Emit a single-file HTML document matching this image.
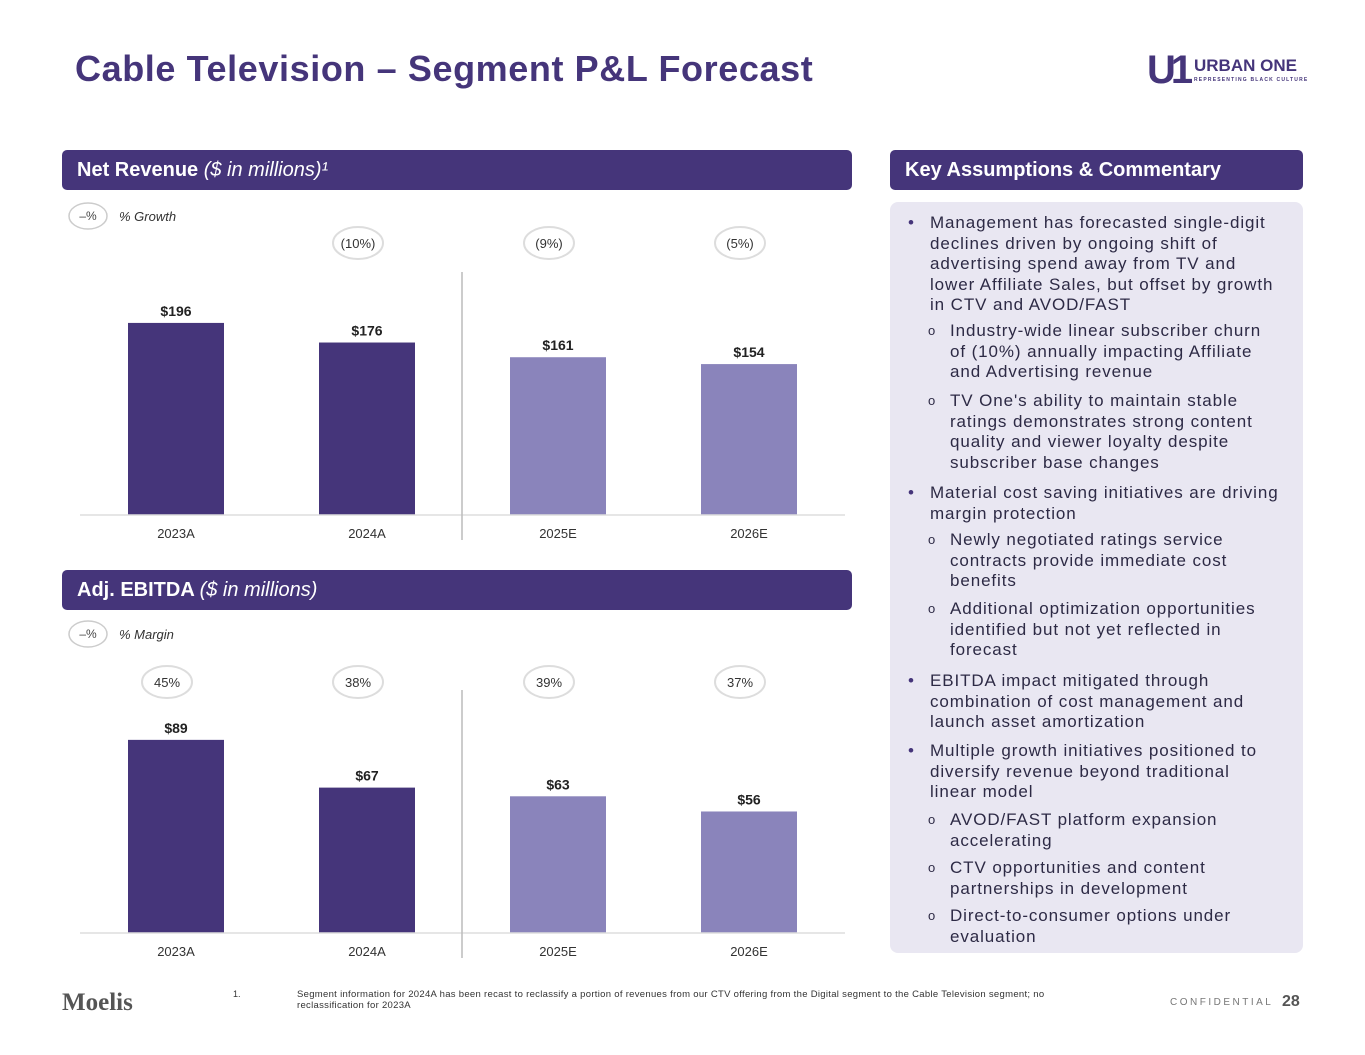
<!DOCTYPE html>
<html><head><meta charset="utf-8"><style>
body{margin:0;width:1365px;height:1055px;background:#fff;font-family:"Liberation Sans",sans-serif;position:relative;overflow:hidden}
.abs{position:absolute}
.hdr{position:absolute;background:#45357a;color:#fff;border-radius:5px;font-size:20px;font-weight:bold;line-height:40px;padding-left:15px;box-sizing:border-box}
.hdr i{font-weight:normal}
.panel{position:absolute;left:890px;top:202px;width:413px;height:751px;background:#e9e7f2;border-radius:8px;font-size:17px;color:#2d2a45;line-height:20.6px;letter-spacing:0.9px}
.b{position:absolute;left:40px;width:370px;white-space:nowrap}
.b:before{content:"•";position:absolute;left:-22px;color:#45357a}
.s{position:absolute;left:60px;width:350px;white-space:nowrap}
.s:before{content:"o";position:absolute;left:-22px;font-size:13px}
</style></head><body>
<div class="abs" style="left:75px;top:48px;font-size:36px;font-weight:bold;color:#45357a;letter-spacing:0.6px;white-space:nowrap">Cable Television – Segment P&amp;L Forecast</div>
<div class="abs" style="left:1147px;top:50px;width:160px;height:40px;white-space:nowrap">
<div class="abs" style="left:0;top:2px;font-size:40px;font-weight:bold;color:#45357a;line-height:36px;letter-spacing:-5px">U1</div>
<div class="abs" style="left:47px;top:6px;font-size:17px;font-weight:bold;color:#45357a;line-height:20px">URBAN ONE</div>
<div class="abs" style="left:47px;top:27px;font-size:5px;font-weight:bold;color:#45357a;letter-spacing:1.2px">REPRESENTING BLACK CULTURE</div>
</div>
<div class="hdr" style="left:62px;top:150px;width:790px;height:40px">Net Revenue <i>($ in millions)¹</i></div>
<div class="hdr" style="left:62px;top:570px;width:790px;height:40px">Adj. EBITDA <i>($ in millions)</i></div>
<div class="hdr" style="left:890px;top:150px;width:413px;height:40px">Key Assumptions &amp; Commentary</div>
<svg class="abs" style="left:0;top:0" width="870" height="980" id="chart"></svg>
<div class="panel">
<div class="b" style="top:11px">Management has forecasted single-digit<br>declines driven by ongoing shift of<br>advertising spend away from TV and<br>lower Affiliate Sales, but offset by growth<br>in CTV and AVOD/FAST</div>
<div class="s" style="top:119px">Industry-wide linear subscriber churn<br>of (10%) annually impacting Affiliate<br>and Advertising revenue</div>
<div class="s" style="top:189px">TV One's ability to maintain stable<br>ratings demonstrates strong content<br>quality and viewer loyalty despite<br>subscriber base changes</div>
<div class="b" style="top:281px">Material cost saving initiatives are driving<br>margin protection</div>
<div class="s" style="top:328px">Newly negotiated ratings service<br>contracts provide immediate cost<br>benefits</div>
<div class="s" style="top:397px">Additional optimization opportunities<br>identified but not yet reflected in<br>forecast</div>
<div class="b" style="top:469px">EBITDA impact mitigated through<br>combination of cost management and<br>launch asset amortization</div>
<div class="b" style="top:539px">Multiple growth initiatives positioned to<br>diversify revenue beyond traditional<br>linear model</div>
<div class="s" style="top:608px">AVOD/FAST platform expansion<br>accelerating</div>
<div class="s" style="top:656px">CTV opportunities and content<br>partnerships in development</div>
<div class="s" style="top:704px">Direct-to-consumer options under<br>evaluation</div>
</div>
<div class="abs" style="left:62px;top:989px;font-family:'Liberation Serif',serif;font-size:25px;font-weight:bold;color:#555">Moelis</div>
<div class="abs" style="left:233px;top:989px;font-size:9px;color:#333">1.</div>
<div class="abs" style="left:297px;top:989px;width:820px;font-size:9.5px;color:#333;line-height:11px;letter-spacing:0.3px;white-space:nowrap">Segment information for 2024A has been recast to reclassify a portion of revenues from our CTV offering from the Digital segment to the Cable Television segment; no<br>reclassification for 2023A</div>
<div class="abs" style="left:1170px;top:997px;font-size:10px;letter-spacing:2.5px;color:#777">CONFIDENTIAL</div>
<div class="abs" style="left:1282px;top:993px;font-size:16px;font-weight:bold;color:#555">28</div>
<script>
const categories=["2023A","2024A","2025E","2026E"];
const revenue=[196,176,161,154];
const revenueGrowth=["","(10%)","(9%)","(5%)"];
const ebitda=[89,67,63,56];
const ebitdaMargin=["45%","38%","39%","37%"];
const svg=document.getElementById('chart');
const NS="http://www.w3.org/2000/svg";
function mk(t,a,txt){const e=document.createElementNS(NS,t);for(const k in a)e.setAttribute(k,a[k]);if(txt!==undefined)e.textContent=txt;svg.appendChild(e);return e;}
function xC(i){return 176+i*191;}
function drawChart(vals,labels,base,scale,circY,legY,legTxt,name){
  const yS=v=>base-v*scale;
  let e=mk('ellipse',{cx:88,cy:legY,rx:19,ry:13,fill:'#fff',stroke:'#ccc','stroke-width':1.5});
  
  mk('text',{x:88,y:legY+4,'text-anchor':'middle','font-size':12,fill:'#444'},'–%');
  e=mk('text',{x:119,y:legY+5,'font-size':13,'font-style':'italic',fill:'#333'},legTxt);
  
  vals.forEach((v,i)=>{
    const b=mk('rect',{x:xC(i)-48,y:yS(v),width:96,height:v*scale,fill:i<2?'#45357a':'#8a84bb'});
    
    
    const t=mk('text',{x:xC(i),y:yS(v)-7,'text-anchor':'middle','font-size':14,'font-weight':'bold',fill:'#222'},'$'+v);
    
    
    const c=mk('text',{x:xC(i),y:base+23,'text-anchor':'middle','font-size':13,fill:'#333'},categories[i]);
    
    
    if(labels[i]){
      const el=mk('ellipse',{cx:xC(i)-9,cy:circY,rx:25,ry:16,fill:'#fff',stroke:'#ddd','stroke-width':2});
      
      
      mk('text',{x:xC(i)-9,y:circY+5,'text-anchor':'middle','font-size':13,fill:'#333'},labels[i]);
    }
  });
  e=mk('line',{x1:80,x2:845,y1:base,y2:base,stroke:'#ddd','stroke-width':1.5});
  
  e=mk('line',{x1:462,x2:462,y1:base-243,y2:base+25,stroke:'#bbb','stroke-width':1.5});
  
}
drawChart(revenue,revenueGrowth,515,0.98,243,216,'% Growth','revenue');
drawChart(ebitda,ebitdaMargin,933,2.17,682,634,'% Margin','ebitda');
</script>
</body></html>
